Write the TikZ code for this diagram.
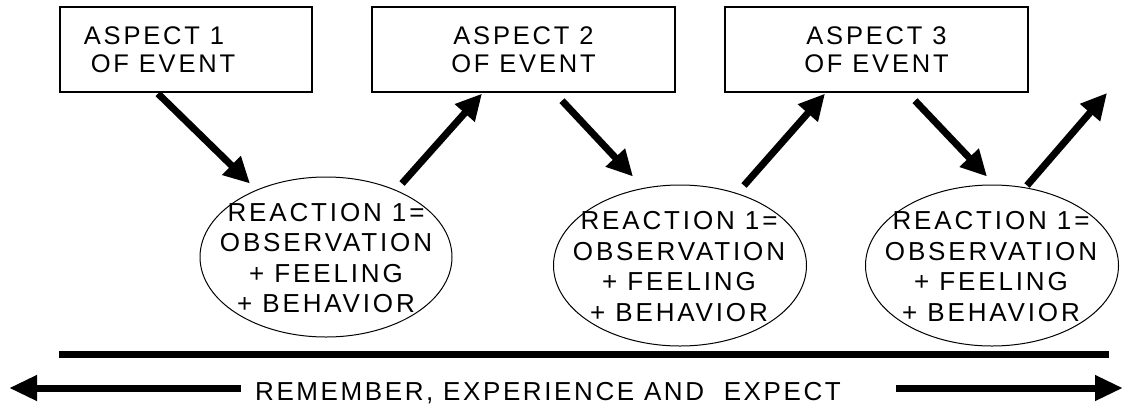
\documentclass[tikz,border=0pt]{standalone}
\usepackage{fontspec}
\setmainfont{Liberation Sans}
\newfontfamily\lsfont{Liberation Sans}[LetterSpace=11]
\newfontfamily\lsfontb{Liberation Sans}[LetterSpace=10]
\usetikzlibrary{shapes.geometric,arrows.meta,calc}
\begin{document}
\begin{tikzpicture}[x=1pt,y=-1pt,
  box/.style={draw,line width=1.3pt,inner sep=0pt,align=center,
    font=\lsfont\fontsize{25.5}{28}\selectfont},
  oval/.style={draw,ellipse,line width=1pt,inner sep=0pt},
  ovaltext/.style={align=center,inner sep=0pt,font=\lsfont\fontsize{26}{30.5}\selectfont},
  fat/.style={line width=7pt,-{Triangle[length=26pt,width=25pt]}},
  bar/.style={line width=7pt}]
\useasboundingbox (0,0) rectangle (1125,405);
% boxes
\node[box,minimum width=252pt,minimum height=85pt] (b1) at (186,49.5)
  {ASPECT 1\hspace*{64pt}\\OF EVENT\hspace*{46pt}};
\node[box,minimum width=303pt,minimum height=85pt] (b2) at (523.5,49.5)
  {ASPECT 2\\OF EVENT};
\node[box,minimum width=303pt,minimum height=85pt] (b3) at (876.5,49.5)
  {ASPECT 3\\OF EVENT};
% ellipses
\node[oval,minimum width=252pt,minimum height=160pt] (e1) at (326,257) {};
\node[oval,minimum width=253pt,minimum height=161pt] (e2) at (680,265.5) {};
\node[oval,minimum width=253pt,minimum height=161pt] (e3) at (992,265.5) {};
\node[ovaltext] (t1) at ($(e1.center)+(0,1)$) {REACTION 1=\\OBSERVATION\\+ FEELING\\+ BEHAVIOR};
\node[ovaltext] (t2) at ($(e2.center)+(-1,1)$) {REACTION 1=\\OBSERVATION\\+ FEELING\\+ BEHAVIOR};
\node[ovaltext] (t3) at ($(e3.center)+(-1,1)$) {REACTION 1=\\OBSERVATION\\+ FEELING\\+ BEHAVIOR};
% arrows
\coordinate (out) at (1107,93);
\draw[fat] ($(b1.south)+(-28,1)$) -- ($(e1.north)+(-76,7)$);
\draw[fat] ($(e1.north)+(76,7)$) -- ($(b2.south)+(-41.5,1)$);
\draw[fat] ($(b2.south)+(38.5,8)$) -- ($(e2.north)+(-47,-8)$);
\draw[fat] ($(e2.north)+(64,1)$) -- ($(b3.south)+(-51.5,1)$);
\draw[fat] ($(b3.south)+(38.5,8)$) -- ($(e3.north)+(-5,-8)$);
\draw[fat] ($(e3.north)+(35,1)$) -- (out);
% bottom bar
\coordinate (barL) at (59,354);
\coordinate (barR) at (1109,354);
\draw[bar] (barL) -- (barR);
% timeline
\node[anchor=base,inner sep=0pt,font=\lsfontb\fontsize{26}{30}\selectfont] (tl) at (548,400)
  {REMEMBER, EXPERIENCE AND\ \ EXPECT};
\coordinate (lA) at (241,388);
\coordinate (lT) at (9,388);
\coordinate (rA) at (896,388);
\coordinate (rT) at (1123,388);
\draw[line width=7pt,{Triangle[length=28pt,width=24pt]}-] (lT) -- (lA);
\draw[line width=7pt,-{Triangle[length=28pt,width=24pt]}] (rA) -- (rT);
\end{tikzpicture}
\end{document}
